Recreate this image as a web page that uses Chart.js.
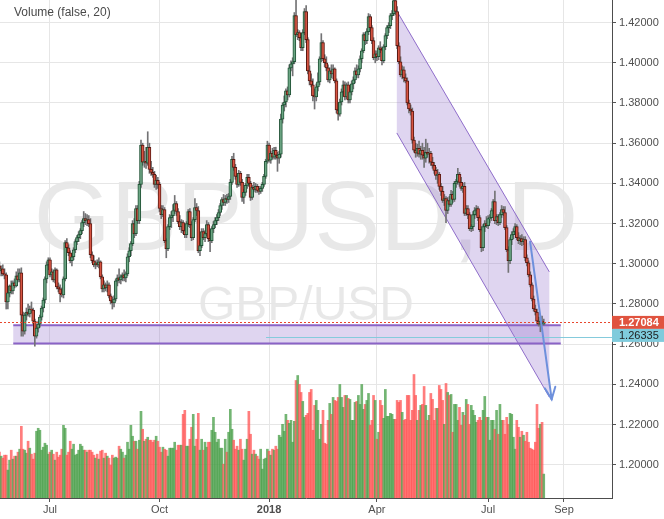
<!DOCTYPE html>
<html>
<head>
<meta charset="utf-8">
<script src="https://cdn.jsdelivr.net/npm/chart.js@4.4.1/dist/chart.umd.min.js"></script>
<style>
  html, body { margin: 0; padding: 0; background: #fff; overflow: hidden; }
  canvas { display: block; }
</style>
</head>
<body>
<canvas id="chart" width="664" height="519"></canvas>
<script>
// GBPUSD daily, late May 2017 -> mid Aug 2018 (one entry per bar)
const open = [
  1.2990,1.2965,1.2975,1.2950,1.2945,1.2810,1.2855,1.2890,1.2865,1.2905,
  1.2890,1.2940,1.2920,1.2955,1.2745,1.2665,1.2745,1.2760,1.2750,1.2775,
  1.2770,1.2715,1.2640,1.2680,1.2700,1.2735,1.2780,1.2820,1.2925,1.2995,
  1.3020,1.2945,1.2960,1.2920,1.2970,1.2885,1.2875,1.2850,1.2845,1.2925,
  1.3105,1.3080,1.3055,1.3015,1.3035,1.3070,1.3110,1.3130,1.3145,1.3165,
  1.3205,1.3225,1.3215,1.3220,1.3200,1.3045,1.3015,1.2995,1.3005,1.2995,
  1.3010,1.2935,1.2875,1.2895,1.2880,1.2895,1.2840,1.2815,1.2805,1.2825,
  1.2915,1.2930,1.2920,1.2935,1.2945,1.2930,1.2950,1.3035,1.3065,1.3100,
  1.3200,1.3150,1.3275,1.3215,1.3395,1.3590,1.3505,1.3510,1.3500,1.3580,
  1.3470,1.3455,1.3445,1.3395,1.3415,1.3395,1.3275,1.3245,1.3270,1.3115,
  1.3075,1.3185,1.3230,1.3240,1.3265,1.3300,1.3260,1.3210,1.3185,1.3205,
  1.3165,1.3145,1.3200,1.3260,1.3195,1.3130,1.3220,1.3280,1.3265,1.3065,
  1.3090,1.3160,1.3130,1.3150,1.3195,1.3125,1.3115,1.3175,1.3195,1.3215,
  1.3230,1.3255,1.3290,1.3320,1.3305,1.3325,1.3320,1.3335,1.3405,1.3520,
  1.3480,1.3435,1.3395,1.3450,1.3405,1.3330,1.3355,1.3390,1.3430,1.3400,
  1.3330,1.3380,1.3370,1.3385,1.3365,1.3360,1.3375,1.3395,1.3435,1.3510,
  1.3590,1.3515,1.3550,1.3530,1.3565,1.3540,1.3525,1.3545,1.3720,1.3790,
  1.3805,1.3860,1.3840,1.3975,1.3995,1.4005,1.4235,1.4140,1.4150,1.4125,
  1.4075,1.4150,1.4255,1.4115,1.3960,1.3910,1.3890,1.3835,1.3830,1.3880,
  1.3905,1.4020,1.4100,1.4020,1.4000,1.3975,1.3915,1.3960,1.3945,1.3970,
  1.3910,1.3765,1.3745,1.3805,1.3855,1.3890,1.3830,1.3890,1.3815,1.3855,
  1.3895,1.3915,1.3960,1.3940,1.3970,1.4020,1.4060,1.4140,1.4110,1.4155,
  1.4230,1.4175,1.4110,1.4025,1.4045,1.4030,1.4075,1.4065,1.4010,1.4080,
  1.4135,1.4175,1.4185,1.4235,1.4245,1.4310,1.4255,1.4085,1.4005,1.3940,
  1.3965,1.3925,1.3910,1.3800,1.3770,1.3760,1.3615,1.3565,1.3550,1.3575,
  1.3545,1.3565,1.3540,1.3525,1.3555,1.3545,1.3550,1.3505,1.3490,1.3465,
  1.3440,1.3445,1.3385,1.3360,1.3315,1.3325,1.3265,1.3315,1.3295,1.3345,
  1.3320,1.3400,1.3410,1.3445,1.3405,1.3375,1.3385,1.3250,1.3275,1.3245,
  1.3175,1.3185,1.3245,1.3265,1.3275,1.3230,1.3170,1.3080,1.3185,1.3200,
  1.3190,1.3225,1.3230,1.3265,1.3310,1.3215,1.3235,1.3205,1.3245,1.3270,
  1.3255,1.3180,1.3070,1.3015,1.3120,1.3145,1.3160,1.3185,1.3130,1.3115,
  1.3125,1.3110,1.3120,1.3030,1.3005,1.2945,1.2895,1.2825,1.2775,1.2760,
  1.2715,1.2700,1.2715,1.2700
];
const high = [
  1.3010,1.2990,1.2995,1.2975,1.2955,1.2865,1.2895,1.2915,1.2915,1.2925,
  1.2960,1.2975,1.2975,1.2980,1.2760,1.2755,1.2780,1.2800,1.2790,1.2810,
  1.2780,1.2725,1.2690,1.2715,1.2745,1.2790,1.2830,1.2935,1.3010,1.3030,
  1.3030,1.2975,1.2970,1.2980,1.2975,1.2905,1.2895,1.2880,1.2935,1.3115,
  1.3125,1.3095,1.3065,1.3045,1.3080,1.3120,1.3140,1.3160,1.3175,1.3215,
  1.3260,1.3250,1.3245,1.3240,1.3225,1.3060,1.3040,1.3015,1.3020,1.3030,
  1.3015,1.2945,1.2915,1.2905,1.2915,1.2905,1.2850,1.2835,1.2840,1.2925,
  1.2945,1.2975,1.2945,1.2955,1.2970,1.2960,1.3050,1.3080,1.3110,1.3215,
  1.3225,1.3290,1.3290,1.3410,1.3615,1.3600,1.3560,1.3580,1.3657,1.3600,
  1.3510,1.3480,1.3460,1.3440,1.3430,1.3405,1.3290,1.3290,1.3280,1.3125,
  1.3195,1.3245,1.3260,1.3295,1.3340,1.3310,1.3275,1.3240,1.3220,1.3215,
  1.3200,1.3210,1.3270,1.3275,1.3210,1.3230,1.3324,1.3300,1.3285,1.3110,
  1.3175,1.3175,1.3165,1.3215,1.3205,1.3150,1.3185,1.3210,1.3230,1.3245,
  1.3270,1.3300,1.3330,1.3345,1.3340,1.3345,1.3350,1.3420,1.3535,1.3550,
  1.3495,1.3450,1.3465,1.3460,1.3420,1.3370,1.3400,1.3445,1.3445,1.3410,
  1.3390,1.3405,1.3400,1.3395,1.3385,1.3385,1.3405,1.3445,1.3520,1.3610,
  1.3600,1.3560,1.3575,1.3580,1.3580,1.3555,1.3560,1.3745,1.3800,1.3835,
  1.3870,1.3880,1.3990,1.4010,1.4025,1.4250,1.4345,1.4165,1.4160,1.4135,
  1.4165,1.4270,1.4285,1.4125,1.3985,1.3945,1.3920,1.3870,1.3895,1.3950,
  1.4030,1.4145,1.4110,1.4040,1.4030,1.3990,1.3975,1.3990,1.3990,1.3975,
  1.3920,1.3800,1.3820,1.3870,1.3910,1.3905,1.3900,1.3905,1.3870,1.3910,
  1.3930,1.3975,1.3990,1.3985,1.4035,1.4070,1.4150,1.4150,1.4170,1.4245,
  1.4240,1.4185,1.4125,1.4060,1.4060,1.4085,1.4105,1.4080,1.4090,1.4145,
  1.4185,1.4200,1.4245,1.4260,1.4345,1.4377,1.4280,1.4100,1.4030,1.3985,
  1.3980,1.3945,1.3925,1.3815,1.3790,1.3775,1.3630,1.3600,1.3595,1.3610,
  1.3585,1.3600,1.3580,1.3620,1.3600,1.3575,1.3560,1.3530,1.3505,1.3480,
  1.3470,1.3455,1.3400,1.3385,1.3345,1.3335,1.3330,1.3335,1.3365,1.3360,
  1.3410,1.3420,1.3475,1.3455,1.3430,1.3400,1.3405,1.3290,1.3290,1.3255,
  1.3195,1.3260,1.3280,1.3290,1.3285,1.3240,1.3185,1.3195,1.3215,1.3235,
  1.3240,1.3245,1.3275,1.3320,1.3362,1.3245,1.3245,1.3255,1.3290,1.3285,
  1.3285,1.3190,1.3085,1.3130,1.3160,1.3175,1.3200,1.3195,1.3155,1.3140,
  1.3145,1.3135,1.3135,1.3045,1.3015,1.2960,1.2905,1.2840,1.2795,1.2775,
  1.2735,1.2735,1.2740,1.2725
];
const low = [
  1.2955,1.2940,1.2940,1.2925,1.2775,1.2775,1.2835,1.2850,1.2850,1.2880,
  1.2885,1.2910,1.2910,1.2640,1.2640,1.2650,1.2720,1.2740,1.2735,1.2755,
  1.2700,1.2590,1.2630,1.2660,1.2685,1.2720,1.2760,1.2805,1.2905,1.2970,
  1.2935,1.2920,1.2910,1.2905,1.2875,1.2860,1.2810,1.2835,1.2830,1.2915,
  1.3065,1.3040,1.3005,1.2990,1.3020,1.3055,1.3095,1.3110,1.3125,1.3150,
  1.3185,1.3195,1.3190,1.3185,1.3030,1.3005,1.2985,1.2975,1.2985,1.2980,
  1.2925,1.2860,1.2860,1.2865,1.2860,1.2830,1.2800,1.2775,1.2785,1.2815,
  1.2890,1.2905,1.2900,1.2915,1.2915,1.2910,1.2940,1.3010,1.3040,1.3090,
  1.3130,1.3140,1.3200,1.3200,1.3380,1.3490,1.3480,1.3475,1.3490,1.3450,
  1.3440,1.3430,1.3380,1.3370,1.3375,1.3260,1.3225,1.3235,1.3105,1.3030,
  1.3065,1.3170,1.3180,1.3210,1.3250,1.3240,1.3200,1.3170,1.3155,1.3150,
  1.3130,1.3130,1.3185,1.3180,1.3115,1.3120,1.3210,1.3240,1.3055,1.3040,
  1.3080,1.3120,1.3110,1.3140,1.3110,1.3060,1.3105,1.3155,1.3180,1.3195,
  1.3215,1.3240,1.3270,1.3290,1.3290,1.3300,1.3305,1.3320,1.3395,1.3465,
  1.3420,1.3380,1.3385,1.3390,1.3310,1.3300,1.3340,1.3375,1.3385,1.3315,
  1.3320,1.3360,1.3355,1.3355,1.3345,1.3350,1.3360,1.3385,1.3425,1.3500,
  1.3505,1.3500,1.3520,1.3520,1.3520,1.3460,1.3500,1.3530,1.3700,1.3760,
  1.3780,1.3815,1.3830,1.3960,1.3935,1.3995,1.4130,1.4115,1.4110,1.4060,
  1.4060,1.4140,1.4100,1.3945,1.3890,1.3880,1.3810,1.3770,1.3810,1.3860,
  1.3890,1.4005,1.4010,1.3980,1.3960,1.3905,1.3900,1.3925,1.3920,1.3900,
  1.3750,1.3715,1.3735,1.3790,1.3835,1.3815,1.3820,1.3800,1.3800,1.3840,
  1.3870,1.3900,1.3925,1.3925,1.3955,1.4000,1.4050,1.4090,1.4095,1.4140,
  1.4160,1.4095,1.4015,1.4000,1.4010,1.4015,1.4050,1.3990,1.4000,1.4065,
  1.4120,1.4150,1.4170,1.4215,1.4235,1.4240,1.4070,1.3995,1.3930,1.3920,
  1.3905,1.3900,1.3790,1.3750,1.3740,1.3600,1.3555,1.3530,1.3535,1.3530,
  1.3520,1.3520,1.3480,1.3505,1.3530,1.3500,1.3490,1.3475,1.3450,1.3420,
  1.3400,1.3370,1.3340,1.3305,1.3290,1.3205,1.3250,1.3285,1.3285,1.3305,
  1.3310,1.3380,1.3395,1.3385,1.3365,1.3355,1.3240,1.3240,1.3225,1.3165,
  1.3160,1.3165,1.3225,1.3240,1.3215,1.3160,1.3060,1.3065,1.3160,1.3180,
  1.3175,1.3205,1.3215,1.3250,1.3200,1.3195,1.3190,1.3195,1.3230,1.3240,
  1.3170,1.3060,1.2957,1.3000,1.3095,1.3125,1.3145,1.3120,1.3100,1.3095,
  1.3090,1.3095,1.3015,1.2990,1.2935,1.2885,1.2815,1.2765,1.2745,1.2700,
  1.2690,1.2662,1.2695,1.2695
];
const close = [
  1.2965,1.2975,1.2950,1.2945,1.2810,1.2855,1.2890,1.2865,1.2905,1.2890,
  1.2940,1.2920,1.2955,1.2745,1.2665,1.2745,1.2760,1.2750,1.2775,1.2770,
  1.2715,1.2640,1.2680,1.2700,1.2735,1.2780,1.2820,1.2925,1.2995,1.3020,
  1.2945,1.2960,1.2920,1.2970,1.2885,1.2875,1.2850,1.2845,1.2925,1.3105,
  1.3080,1.3055,1.3015,1.3035,1.3070,1.3110,1.3130,1.3145,1.3165,1.3205,
  1.3225,1.3215,1.3220,1.3200,1.3045,1.3015,1.2995,1.3005,1.2995,1.3010,
  1.2935,1.2875,1.2895,1.2880,1.2895,1.2840,1.2815,1.2805,1.2825,1.2915,
  1.2930,1.2920,1.2935,1.2945,1.2930,1.2950,1.3035,1.3065,1.3100,1.3200,
  1.3150,1.3275,1.3215,1.3395,1.3590,1.3505,1.3510,1.3500,1.3580,1.3470,
  1.3455,1.3445,1.3395,1.3415,1.3395,1.3275,1.3245,1.3270,1.3115,1.3075,
  1.3185,1.3230,1.3240,1.3265,1.3300,1.3260,1.3210,1.3185,1.3205,1.3165,
  1.3145,1.3200,1.3260,1.3195,1.3130,1.3220,1.3280,1.3265,1.3065,1.3090,
  1.3160,1.3130,1.3150,1.3195,1.3125,1.3115,1.3175,1.3195,1.3215,1.3230,
  1.3255,1.3290,1.3320,1.3305,1.3325,1.3320,1.3335,1.3405,1.3520,1.3480,
  1.3435,1.3395,1.3450,1.3405,1.3330,1.3355,1.3390,1.3430,1.3400,1.3330,
  1.3380,1.3370,1.3385,1.3365,1.3360,1.3375,1.3395,1.3435,1.3510,1.3590,
  1.3515,1.3550,1.3530,1.3565,1.3540,1.3525,1.3545,1.3720,1.3790,1.3805,
  1.3860,1.3840,1.3975,1.3995,1.4005,1.4235,1.4140,1.4150,1.4125,1.4075,
  1.4150,1.4255,1.4115,1.3960,1.3910,1.3890,1.3835,1.3830,1.3880,1.3905,
  1.4020,1.4100,1.4020,1.4000,1.3975,1.3915,1.3960,1.3945,1.3970,1.3910,
  1.3765,1.3745,1.3805,1.3855,1.3890,1.3830,1.3890,1.3815,1.3855,1.3895,
  1.3915,1.3960,1.3940,1.3970,1.4020,1.4060,1.4140,1.4110,1.4155,1.4230,
  1.4175,1.4110,1.4025,1.4045,1.4030,1.4075,1.4065,1.4010,1.4080,1.4135,
  1.4175,1.4185,1.4235,1.4245,1.4310,1.4255,1.4085,1.4005,1.3940,1.3965,
  1.3925,1.3910,1.3800,1.3770,1.3760,1.3615,1.3565,1.3550,1.3575,1.3545,
  1.3565,1.3540,1.3525,1.3555,1.3545,1.3550,1.3505,1.3490,1.3465,1.3440,
  1.3445,1.3385,1.3360,1.3315,1.3325,1.3265,1.3315,1.3295,1.3345,1.3320,
  1.3400,1.3410,1.3445,1.3405,1.3375,1.3385,1.3250,1.3275,1.3245,1.3175,
  1.3185,1.3245,1.3265,1.3275,1.3230,1.3170,1.3080,1.3185,1.3200,1.3190,
  1.3225,1.3230,1.3265,1.3310,1.3215,1.3235,1.3205,1.3245,1.3270,1.3255,
  1.3180,1.3070,1.3015,1.3120,1.3145,1.3160,1.3185,1.3130,1.3115,1.3125,
  1.3110,1.3120,1.3030,1.3005,1.2945,1.2895,1.2825,1.2775,1.2760,1.2715,
  1.2700,1.2715,1.2710,1.2708
];
const volume = [
  46,42,40,43,43,28,38,48,39,42,   42,46,49,72,49,48,45,57,50,44,
  39,45,67,70,68,48,51,55,53,44,   46,48,44,38,46,41,43,49,73,70,
  43,46,57,49,54,43,44,48,54,52,   48,48,46,48,48,46,43,40,44,39,
  47,48,40,45,42,40,33,43,40,41,   40,52,49,46,40,43,56,49,73,62,
  57,57,49,58,87,69,57,59,61,58,   58,56,58,62,57,51,46,51,49,48,
  42,50,50,50,56,48,53,53,53,84,   88,52,52,59,71,84,52,59,85,48,
  59,48,56,51,56,56,68,81,66,56,   59,50,50,34,59,46,66,89,69,58,
  49,52,48,59,49,38,49,59,87,64,   44,48,44,42,39,49,29,39,40,49,
  47,43,49,48,52,49,63,61,74,67,   84,78,75,78,56,77,118,123,114,106,
  97,81,83,85,106,109,68,93,98,88, 59,74,88,55,54,78,95,84,101,98,
  97,101,114,101,91,103,103,100,99,78, 78,96,97,103,94,114,89,94,98,105,
  73,78,103,98,59,66,98,93,80,109, 82,82,85,84,79,79,98,96,98,86,
  78,79,103,103,78,88,124,103,78,88, 93,94,112,93,78,83,105,99,78,90,
  90,113,109,98,74,115,106,103,104,66, 94,94,78,91,73,86,83,99,94,74,
  93,88,83,76,78,81,78,88,102,81,  81,58,78,78,69,88,64,94,78,78,
  64,81,74,85,84,61,49,78,71,61,   67,63,57,66,56,50,49,48,56,94,
  70,74,76,24
];

// axis ticks (bar index -> label)
const xTickIndex  = [30, 95, 160, 224, 290, 335];
const xTickLabels = ['Jul', 'Oct', '2018', 'Apr', 'Jul', 'Sep'];
const priceTicks  = [1.20, 1.22, 1.24, 1.26, 1.28, 1.30, 1.32, 1.34, 1.36, 1.38, 1.40, 1.42];

// drawings, in (bar index, price)
const channelUpper = [[235.8, 1.4258], [326.3, 1.2960]];
const channelLower = [[235.8, 1.3651], [326.3, 1.2337]];
const zoneBox      = [[8.2, 1.2694], [333.1, 1.2604]];
const arrowLine    = [[314.9, 1.3110], [327.7, 1.2326]];
const markLineFrom = 158.2;
const lastPrice = 1.27084;
const markPrice = 1.26335;
const watermark = ['GBPUSD, D', 'GBP/USD'];
const legendText = 'Volume (false, 20)';

const FONT = "'Liberation Sans', Arial, sans-serif";
const isUp = i => close[i] >= open[i];
const noPad = s => { s.paddingTop = 0; s.paddingBottom = 0; s.paddingLeft = 0; s.paddingRight = 0; };

const drawings = {
  id: 'drawings',
  beforeDraw(chart) {
    const { ctx, chartArea: a } = chart;
    const cx = (a.left + a.right) / 2;
    ctx.save();
    ctx.fillStyle = '#fff';
    ctx.fillRect(0, 0, chart.width, chart.height);
    ctx.fillStyle = 'rgba(0,0,0,0.09)';
    ctx.textAlign = 'center';
    ctx.textBaseline = 'alphabetic';
    ctx.font = '99px ' + FONT;
    ctx.fillText(watermark[0], cx, a.top + a.height * 0.502);
    ctx.font = '48px ' + FONT;
    ctx.fillText(watermark[1], cx, a.top + a.height * 0.643);
    ctx.restore();
  },
  beforeDatasetsDraw(chart) {
    const { ctx, chartArea: a, scales: { x, y } } = chart;
    const px = p => [x.getPixelForValue(p[0]), y.getPixelForValue(p[1])];
    ctx.save();
    ctx.beginPath();
    ctx.rect(a.left, a.top, a.width, a.height);
    ctx.clip();

    // descending channel
    const u0 = px(channelUpper[0]), u1 = px(channelUpper[1]);
    const l0 = px(channelLower[0]), l1 = px(channelLower[1]);
    ctx.fillStyle = 'rgba(149,117,205,0.30)';
    ctx.beginPath();
    ctx.moveTo(u0[0], u0[1]); ctx.lineTo(u1[0], u1[1]);
    ctx.lineTo(l1[0], l1[1]); ctx.lineTo(l0[0], l0[1]);
    ctx.closePath(); ctx.fill();
    ctx.strokeStyle = 'rgba(126,87,194,0.85)';
    ctx.lineWidth = 1;
    ctx.beginPath(); ctx.moveTo(u0[0], u0[1]); ctx.lineTo(u1[0], u1[1]); ctx.stroke();
    ctx.beginPath(); ctx.moveTo(l0[0], l0[1]); ctx.lineTo(l1[0], l1[1]); ctx.stroke();

    // support zone
    const z0 = px(zoneBox[0]), z1 = px(zoneBox[1]);
    ctx.fillStyle = 'rgba(149,117,205,0.30)';
    ctx.fillRect(z0[0], z0[1], z1[0] - z0[0], z1[1] - z0[1]);
    ctx.strokeStyle = '#8a63c6';
    ctx.lineWidth = 2;
    ctx.beginPath();
    ctx.moveTo(z0[0], z0[1]); ctx.lineTo(z1[0], z0[1]);
    ctx.moveTo(z0[0], z1[1]); ctx.lineTo(z1[0], z1[1]);
    ctx.stroke();

    // mark price line
    const my = Math.round(y.getPixelForValue(markPrice)) + 0.5;
    ctx.strokeStyle = '#85cbdc';
    ctx.lineWidth = 1;
    ctx.beginPath();
    ctx.moveTo(x.getPixelForValue(markLineFrom), my);
    ctx.lineTo(a.right, my);
    ctx.stroke();
    ctx.restore();
  },
  afterDatasetsDraw(chart) {
    const { ctx, chartArea: a, scales: { x, y } } = chart;
    ctx.save();
    // last price dotted line
    const ly = Math.round(y.getPixelForValue(lastPrice)) + 0.5;
    ctx.strokeStyle = '#e8472e';
    ctx.lineWidth = 1;
    ctx.setLineDash([2, 2]);
    ctx.beginPath(); ctx.moveTo(a.left, ly); ctx.lineTo(a.right, ly); ctx.stroke();
    ctx.setLineDash([]);

    // projection arrow
    const p0 = [x.getPixelForValue(arrowLine[0][0]), y.getPixelForValue(arrowLine[0][1])];
    const p1 = [x.getPixelForValue(arrowLine[1][0]), y.getPixelForValue(arrowLine[1][1])];
    const ang = Math.atan2(p0[1] - p1[1], p0[0] - p1[0]);
    ctx.strokeStyle = '#6e90dc';
    ctx.lineWidth = 2;
    ctx.lineCap = 'round';
    ctx.beginPath(); ctx.moveTo(p0[0], p0[1]); ctx.lineTo(p1[0], p1[1]); ctx.stroke();
    ctx.beginPath();
    ctx.moveTo(p1[0] + 13 * Math.cos(ang + 0.42), p1[1] + 13 * Math.sin(ang + 0.42));
    ctx.lineTo(p1[0], p1[1]);
    ctx.lineTo(p1[0] + 13 * Math.cos(ang - 0.42), p1[1] + 13 * Math.sin(ang - 0.42));
    ctx.stroke();
    ctx.restore();
  },
  afterDraw(chart) {
    const { ctx, chartArea: a, scales: { y } } = chart;
    ctx.save();
    // price labels on the axis
    const h = 13;
    const ly = y.getPixelForValue(lastPrice);
    const redTop = ly - h / 2;
    ctx.font = 'bold 11px ' + FONT;
    ctx.textBaseline = 'middle';
    ctx.textAlign = 'left';
    ctx.fillStyle = '#e0533f';
    ctx.fillRect(a.right, redTop, chart.width - a.right, h);
    ctx.fillStyle = '#fff';
    ctx.fillText(lastPrice.toFixed(5), a.right + 7, redTop + h / 2 + 0.5);
    const cyTop = redTop + h;
    ctx.fillStyle = '#7fcbdc';
    ctx.fillRect(a.right, cyTop, chart.width - a.right, h);
    ctx.fillStyle = '#1e1e1e';
    ctx.font = '11px ' + FONT;
    ctx.fillText(markPrice.toFixed(5), a.right + 7, cyTop + h / 2 + 0.5);

    // study legend
    ctx.fillStyle = '#4a4a4a';
    ctx.font = '12px ' + FONT;
    ctx.fillText(legendText, a.left + 14, a.top + 13);
    ctx.restore();
  }
};

new Chart(document.getElementById('chart'), {
  type: 'bar',
  data: {
    datasets: [
      {
        label: 'Volume',
        data: volume.map((v, i) => ({ x: i, y: v })),
        yAxisID: 'yVol',
        backgroundColor: volume.map((v, i) => isUp(i) ? 'rgba(76,160,76,0.78)' : 'rgba(255,82,82,0.75)'),
        barThickness: 2,
        grouped: false,
        order: 3
      },
      {
        label: 'Wick',
        data: low.map((l, i) => ({ x: i, y: [l, high[i]] })),
        backgroundColor: '#737375',
        barThickness: 1,
        grouped: false,
        order: 2
      },
      {
        label: 'Body',
        data: open.map((o, i) => ({ x: i, y: [o, close[i]] })),
        backgroundColor: open.map((o, i) => isUp(i) ? '#6ba583' : '#d75442'),
        borderColor: open.map((o, i) => isUp(i) ? '#225437' : '#5b1a13'),
        borderWidth: 1,
        borderSkipped: false,
        barThickness: 3,
        grouped: false,
        order: 1
      }
    ]
  },
  options: {
    responsive: false,
    animation: false,
    devicePixelRatio: 1,
    layout: { padding: 0 },
    plugins: { legend: { display: false }, tooltip: { enabled: false } },
    scales: {
      x: {
        type: 'linear',
        min: 0.33,
        max: 363.5,
        offset: false,
        grid: { color: '#e6e6e6', offset: false, tickLength: 4, tickColor: '#555' },
        border: { color: '#4d4d4d', width: 1 },
        afterBuildTicks: s => { s.ticks = xTickIndex.map(v => ({ value: v })); },
        afterFit: s => { s.height = 21; noPad(s); },
        ticks: {
          autoSkip: false,
          maxRotation: 0,
          padding: 1,
          color: '#4f4f4f',
          font: c => ({ family: FONT, size: 11, weight: c.tick && c.tick.label === '2018' ? 'bold' : 'normal' }),
          callback: (v, i) => xTickLabels[i]
        }
      },
      y: {
        position: 'right',
        min: 1.18348,
        max: 1.43124,
        grid: { color: '#e6e6e6', tickLength: 4, tickColor: '#555' },
        border: { color: '#4d4d4d', width: 1 },
        afterBuildTicks: s => { s.ticks = priceTicks.map(v => ({ value: v })); },
        afterFit: s => { s.width = 52; noPad(s); },
        ticks: {
          padding: 3,
          color: '#4f4f4f',
          font: { family: FONT, size: 11 },
          callback: v => v.toFixed(5)
        }
      },
      yVol: {
        display: false,
        min: 0,
        max: 500
      }
    }
  },
  plugins: [drawings]
});
</script>
</body>
</html>
